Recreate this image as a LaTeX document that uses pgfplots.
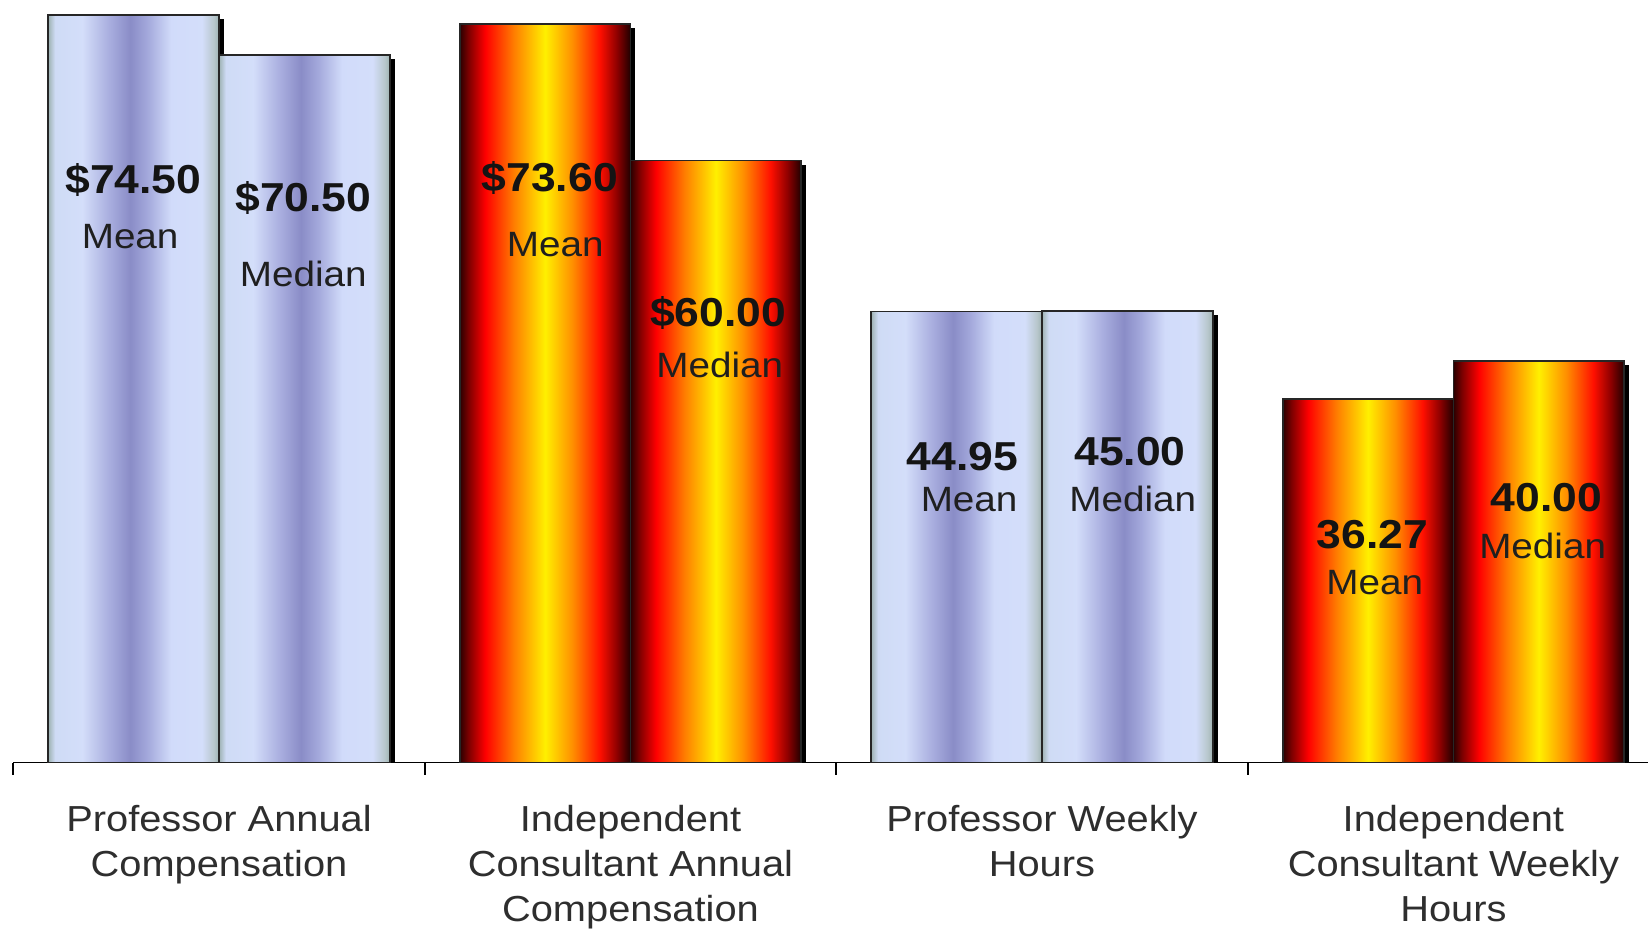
\documentclass[border=0pt]{standalone}
\usepackage{fontspec}
\setmainfont{Liberation Sans}[FakeStretch=1.1]
\usepackage{pgfplots}
\pgfplotsset{compat=1.18}

% bar shadings: 25bp..75bp is mapped onto the bar's width
\pgfdeclarehorizontalshading{redbar}{100bp}{%
  rgb(0bp)=(0.165,0,0); rgb(25bp)=(0.165,0,0); rgb(27.5bp)=(0.48,0,0);
  rgb(32.5bp)=(1,0,0); rgb(41bp)=(1,0.5,0); rgb(50bp)=(1,0.94,0);
  rgb(58bp)=(1,0.56,0); rgb(66bp)=(1,0.06,0); rgb(71bp)=(0.56,0,0);
  rgb(75bp)=(0.125,0,0); rgb(100bp)=(0.125,0,0)}
\pgfdeclarehorizontalshading{bluebar}{100bp}{%
  rgb(0bp)=(0.62,0.70,0.70); rgb(25bp)=(0.62,0.70,0.70); rgb(27bp)=(0.81,0.86,0.96);
  rgb(35bp)=(0.83,0.87,0.98); rgb(42.5bp)=(0.67,0.69,0.88); rgb(49bp)=(0.54,0.55,0.78);
  rgb(54bp)=(0.64,0.66,0.86); rgb(61bp)=(0.82,0.86,0.98); rgb(70bp)=(0.83,0.87,0.98);
  rgb(73.5bp)=(0.72,0.78,0.80); rgb(75bp)=(0.62,0.70,0.70); rgb(100bp)=(0.62,0.70,0.70)}

\tikzset{
  blueBar/.style={shading=bluebar, draw=black!85, line width=0.5pt},
  redBar/.style={shading=redbar, draw=black!85, line width=0.5pt},
  shadowBar/.style={fill=black, draw=none, yshift=-0.4mm},
  numlab/.style={anchor=base, inner sep=0pt, font=\bfseries\fontsize{11.5}{13}\selectfont, text=black!92},
  wordlab/.style={anchor=base, inner sep=0pt, font=\fontsize{10}{12}\selectfont, text=black!88},
}

\begin{document}
\begin{tikzpicture}
\begin{axis}[
    scale only axis,
    width=16.35cm, height=7.627cm,
    xmin=-0.5, xmax=3.473,
    ymin=0, ymax=76,
    axis x line=bottom, axis y line=none,
    x axis line style={-, black, line width=0.5pt},
    ybar, bar width=0.415,
    xtick={0,1,2,3},
    major tick length=0pt,
    minor xtick={-0.5,0.5,1.5,2.5},
    minor tick length=1.2mm,
    tick align=outside,
    tick style={black, line width=0.5pt},
    xticklabels={{Professor Annual\\Compensation},
                 {Independent\\Consultant Annual\\Compensation},
                 {Professor Weekly\\Hours},
                 {Independent\\Consultant Weekly\\Hours}},
    xticklabel style={anchor=north, inner sep=0pt, yshift=-4.2mm, align=center,
                      font=\fontsize{10.3}{12.8}\selectfont, text=black!82},
]
% one plot per bar, so that each bar gets its own shading; shadow first
% Professor annual compensation
\addplot[shadowBar, bar shift=-0.1955] coordinates {(0,74.50)};
\addplot[blueBar, bar shift=-0.2075] coordinates {(0,74.50)};
\addplot[shadowBar, bar shift=0.2195] coordinates {(0,70.50)};
\addplot[blueBar, bar shift=0.2075] coordinates {(0,70.50)};
% consultant annual compensation
\addplot[shadowBar, bar shift=-0.1955] coordinates {(1,73.60)};
\addplot[redBar, bar shift=-0.2075] coordinates {(1,73.60)};
\addplot[shadowBar, bar shift=0.2195] coordinates {(1,60.00)};
\addplot[redBar, bar shift=0.2075] coordinates {(1,60.00)};
% professor weekly hours
\addplot[shadowBar, bar shift=-0.1955] coordinates {(2,44.95)};
\addplot[blueBar, bar shift=-0.2075] coordinates {(2,44.95)};
\addplot[shadowBar, bar shift=0.2195] coordinates {(2,45.00)};
\addplot[blueBar, bar shift=0.2075] coordinates {(2,45.00)};
% consultant weekly hours
\addplot[shadowBar, bar shift=-0.1955] coordinates {(3,36.27)};
\addplot[redBar, bar shift=-0.2075] coordinates {(3,36.27)};
\addplot[shadowBar, bar shift=0.2195] coordinates {(3,40.00)};
\addplot[redBar, bar shift=0.2075] coordinates {(3,40.00)};

\node[numlab] at (axis cs:-0.208,56.74) {\$74.50};
\node[wordlab] at (axis cs:-0.216,51.27) {Mean};
\node[numlab] at (axis cs:0.205,54.95) {\$70.50};
\node[wordlab] at (axis cs:0.205,47.48) {Median};
\node[numlab] at (axis cs:0.804,56.87) {\$73.60};
\node[wordlab] at (axis cs:0.817,50.4) {Mean};
\node[numlab] at (axis cs:1.213,43.43) {\$60.00};
\node[wordlab] at (axis cs:1.217,38.4) {Median};
\node[numlab] at (axis cs:1.807,29.15) {44.95};
\node[wordlab] at (axis cs:1.823,25.0) {Mean};
\node[numlab] at (axis cs:2.214,29.65) {45.00};
\node[wordlab] at (axis cs:2.221,25.0) {Median};
\node[numlab] at (axis cs:2.803,21.35) {36.27};
\node[wordlab] at (axis cs:2.809,16.7) {Mean};
\node[numlab] at (axis cs:3.226,25.0) {40.00};
\node[wordlab] at (axis cs:3.217,20.36) {Median};

\coordinate (bl) at (rel axis cs:0,0);
\coordinate (tr) at (rel axis cs:1,1);
\end{axis}
\pgfresetboundingbox
\path[use as bounding box] ([xshift=-1.33mm,yshift=-16.73mm]bl) rectangle (tr);
\end{tikzpicture}
\end{document}
